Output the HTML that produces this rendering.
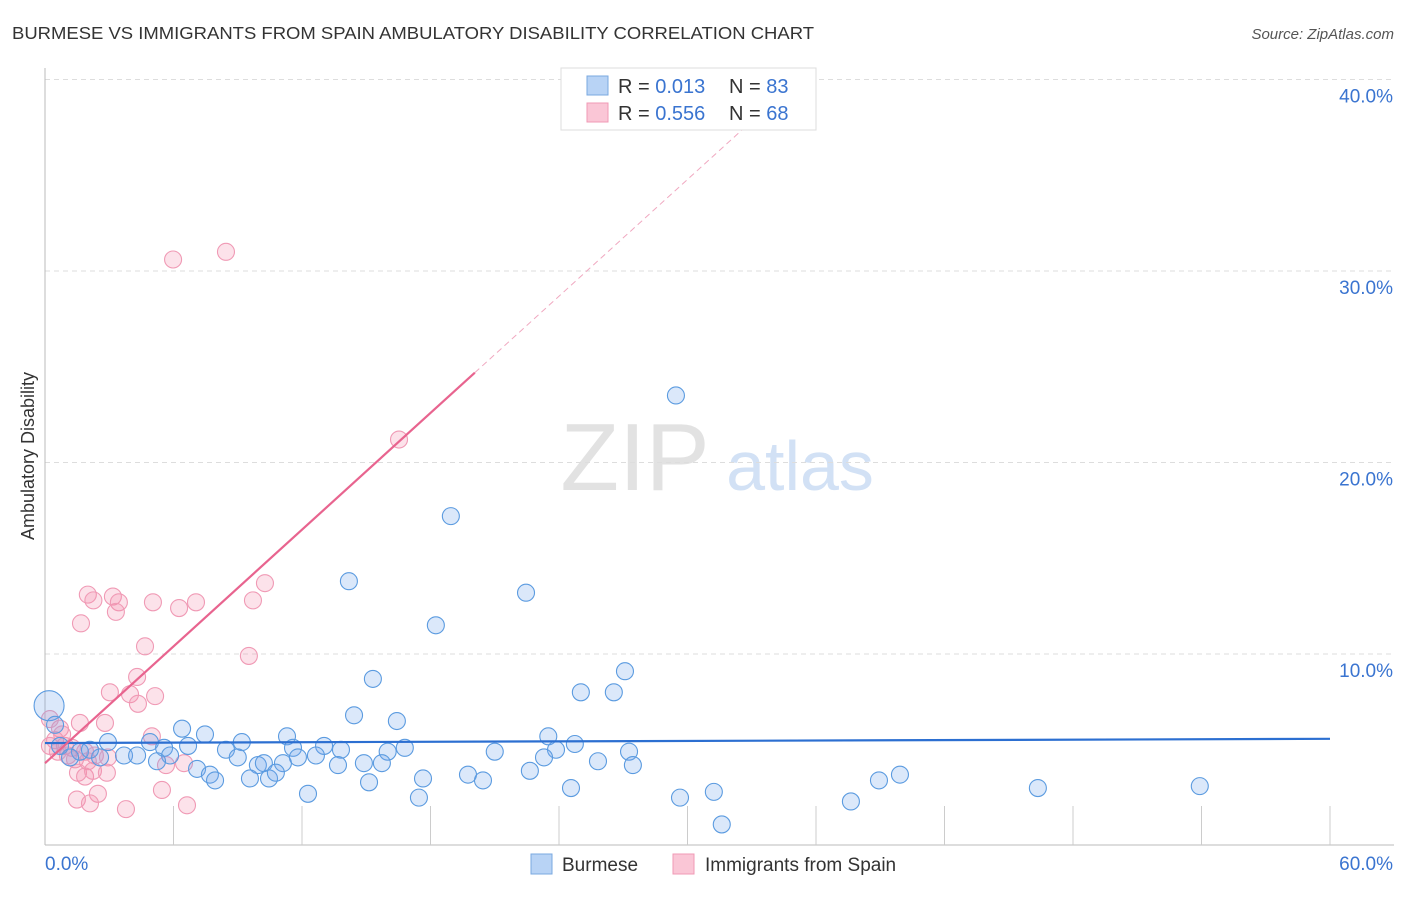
<!DOCTYPE html>
<html><head><meta charset="utf-8"><style>
body{margin:0;background:#fff;font-family:"Liberation Sans",sans-serif}
svg text{font-family:"Liberation Sans",sans-serif}
</style></head><body>
<svg id="c" width="1406" height="892" xmlns="http://www.w3.org/2000/svg">
<text x="12" y="39" font-size="17.5" fill="#333" textLength="802" lengthAdjust="spacingAndGlyphs">BURMESE VS IMMIGRANTS FROM SPAIN AMBULATORY DISABILITY CORRELATION CHART</text>
<text x="1394" y="39" font-size="15" fill="#555" font-style="italic" text-anchor="end">Source: ZipAtlas.com</text>
<text x="34" y="456" font-size="18" fill="#333" text-anchor="middle" transform="rotate(-90 34 456)">Ambulatory Disability</text>
<g><text x="635" y="490" font-size="96" fill="#e2e2e2" text-anchor="middle" font-family="Liberation Serif">ZIP</text><text x="800" y="490" font-size="70" fill="#d2e1f5" text-anchor="middle">atlas</text></g>
<g id="grid"></g><g id="axes"></g><g id="pts"></g><g id="lines"></g>
<g>
<rect x="561" y="68" width="255" height="62" fill="#fff" stroke="#ddd"/>
<rect x="587" y="76" width="21" height="19" fill="#b8d3f5" stroke="#7aa8e0"/>
<rect x="587" y="103" width="21" height="19" fill="#fac6d6" stroke="#f09ab5"/>
<text x="618" y="93" font-size="20" fill="#333">R = <tspan fill="#3a74d0">0.013</tspan></text>
<text x="729" y="93" font-size="20" fill="#333">N = <tspan fill="#3a74d0">83</tspan></text>
<text x="618" y="120" font-size="20" fill="#333">R = <tspan fill="#3a74d0">0.556</tspan></text>
<text x="729" y="120" font-size="20" fill="#333">N = <tspan fill="#3a74d0">68</tspan></text>
</g>
<g>
<rect x="531" y="854" width="21" height="20" fill="#b8d3f5" stroke="#7aa8e0"/>
<text x="562" y="871" font-size="19" fill="#333">Burmese</text>
<rect x="673" y="854" width="21" height="20" fill="#fac6d6" stroke="#f09ab5"/>
<text x="705" y="871" font-size="19" fill="#333">Immigrants from Spain</text>
</g>
</svg>
<script>
const xTickLabels=["0.0%","60.0%"];
const yTicks=[10,20,30,40];
const yTickLabels=["10.0%","20.0%","30.0%","40.0%"];
const blueX=[29.46,18.95,14.19,22.46,18.25,27.08,15.31,25.02,26.56,14.43,16.43,0.19,6.4,7.47,11.3,23.5,9.19,24.74,2.94,4.9,11.58,13.03,13.82,16.8,16.0,21.0,27.27,5.56,6.68,8.45,0.7,1.63,2.57,3.69,4.3,5.84,9.0,11.81,12.65,23.86,23.3,25.82,27.45,5.23,7.1,9.94,10.22,11.11,13.68,14.89,15.73,7.7,7.94,9.57,10.46,10.78,15.13,17.65,19.75,20.45,22.64,38.94,39.92,46.36,53.92,12.28,17.46,24.56,29.65,31.23,37.63,31.6,2.1,1.17,0.47];
const blueY=[23.5,17.2,13.8,13.2,11.5,9.1,8.7,8.0,8.0,6.8,6.5,7.3,6.1,5.8,5.7,5.7,5.4,5.3,5.4,5.4,5.1,5.2,5.0,5.1,4.9,4.9,4.9,5.1,5.2,5.0,5.2,4.9,4.6,4.7,4.7,4.7,4.6,4.6,4.7,5.0,4.6,4.4,4.2,4.4,4.0,4.2,4.3,4.3,4.2,4.3,4.3,3.7,3.4,3.5,3.5,3.8,3.3,3.5,3.7,3.4,3.9,3.4,3.7,3.0,3.1,2.7,2.5,3.0,2.5,2.8,2.3,1.1,5.0,4.6,6.3];
const pinkX=[8.45,5.98,16.53,10.27,2.0,3.17,2.26,3.45,5.04,7.05,9.71,6.26,3.31,1.68,4.67,9.52,4.3,3.03,3.97,5.14,4.34,2.8,1.63,4.99,0.7,0.47,0.93,1.26,1.87,2.33,1.07,1.4,2.0,2.94,0.23,0.6,5.65,6.49,1.54,1.87,2.24,2.89,5.46,2.47,1.49,2.1,6.63,3.78,0.23,0.8];
const pinkY=[31.0,30.6,21.2,13.7,13.1,13.0,12.8,12.7,12.7,12.7,12.8,12.4,12.2,11.6,10.4,9.9,8.8,8.0,7.9,7.8,7.4,6.4,6.4,5.7,6.1,5.5,5.2,5.1,4.9,4.7,4.7,4.5,4.4,4.6,5.2,4.9,4.2,4.3,3.8,3.6,3.9,3.8,2.9,2.7,2.4,2.2,2.1,1.9,6.6,5.8];
const blueTrend=[5.35,5.57];
const pinkTrend=[4.3,1.016];
const NS="http://www.w3.org/2000/svg";
const X=v=>45+v/60*1285, Y=v=>845.5-v*19.15;
function mk(p,t,a){const e=document.createElementNS(NS,t);for(const k in a)e.setAttribute(k,a[k]);document.getElementById(p).appendChild(e);return e;}
yTicks.forEach((t,i)=>{
 const g=mk('grid','line',{x1:45,x2:1394,y1:Y(t),y2:Y(t),stroke:'#ddd','stroke-dasharray':'5,4'});
 
 
 const l=mk('grid','text',{x:1393,y:Y(t)+23,'font-size':19,fill:'#3a74d0','text-anchor':'end'});l.textContent=yTickLabels[i];
 
 
});
const ax=mk('axes','line',{x1:45,x2:45,y1:68,y2:845,stroke:'#bbb'});


const bx=mk('axes','line',{x1:45,x2:1394,y1:845,y2:845,stroke:'#bbb'});


for(let i=1;i<=10;i++){const t=mk('axes','line',{x1:X(i*6),x2:X(i*6),y1:806,y2:845,stroke:'#ccc'});
 
 }
const l0=mk('axes','text',{x:45,y:870,'font-size':19,fill:'#3a74d0'});l0.textContent=xTickLabels[0];


const l1=mk('axes','text',{x:1393,y:870,'font-size':19,fill:'#3a74d0','text-anchor':'end'});l1.textContent=xTickLabels[1];


pinkX.forEach((v,i)=>{const c=mk('pts','circle',{cx:X(v),cy:Y(pinkY[i]),r:8.5,fill:'rgba(245,140,170,0.25)',stroke:'#f09ab5','stroke-width':1.1});
 
 });
blueX.forEach((v,i)=>{const c=mk('pts','circle',{cx:X(v),cy:Y(blueY[i]),r:i==11?15:8.5,fill:'rgba(110,165,235,0.25)',stroke:'#5b9be0','stroke-width':1.1});
 
 });
const bl=mk('lines','line',{x1:X(0),x2:X(60),y1:Y(blueTrend[0]),y2:Y(blueTrend[1]),stroke:'#2c6fd1','stroke-width':2.2});


const pl=mk('lines','line',{x1:X(0),x2:X(20.07),y1:Y(pinkTrend[0]),y2:Y(pinkTrend[0]+pinkTrend[1]*20.07),stroke:'#e8648f','stroke-width':2.2});


const pd=mk('lines','line',{x1:X(20.07),x2:X(32.7),y1:Y(pinkTrend[0]+pinkTrend[1]*20.07),y2:Y(pinkTrend[0]+pinkTrend[1]*32.7),stroke:'#f0a8c0','stroke-width':1,'stroke-dasharray':'6,4'});


</script>
</body></html>
